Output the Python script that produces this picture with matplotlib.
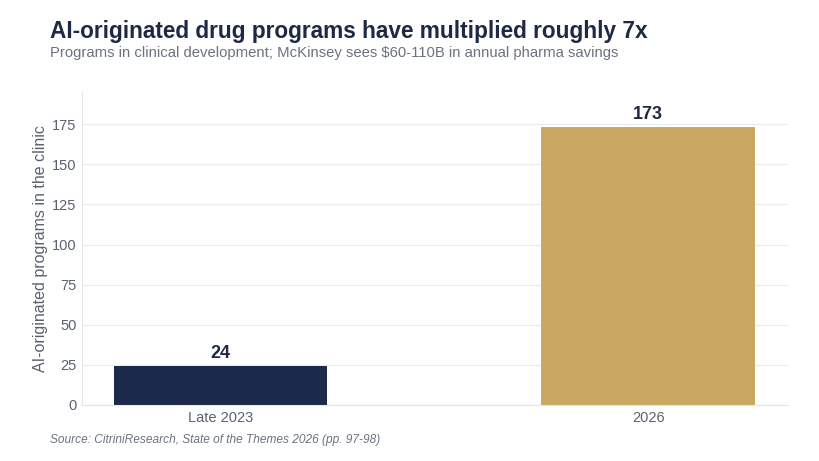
import numpy as np
import matplotlib.pyplot as plt

plt.rcParams['font.family'] = ['Liberation Sans', 'DejaVu Sans']

categories = ["Late 2023", "2026"]
values = [24, 173]
colors = ["#1b2a4a", "#c9a862"]

title = "AI-originated drug programs have multiplied roughly 7x"
subtitle = "Programs in clinical development; McKinsey sees $60-110B in annual pharma savings"
source = "Source: CitriniResearch, State of the Themes 2026 (pp. 97-98)"

fig = plt.figure(figsize=(8.2, 4.61), dpi=100)
ax = fig.add_axes([0.1, 0.1215, 0.861, 0.6785])

x = np.arange(len(categories))
ax.bar(x, values, width=0.5, color=colors, zorder=2)
for xi, v in zip(x, values):
    ax.text(xi, v + 3, str(v), ha="center", va="bottom", fontsize=13,
            fontweight="bold", color="#1e2a45")

ax.set_xlim(-0.324, 1.327)
ax.set_ylim(0, 195)
ax.set_yticks(np.arange(0, 176, 25))
ax.set_xticks(x)
ax.set_xticklabels(categories)
ax.grid(axis="y", color="#ececec", linewidth=0.8, zorder=0)
for s in ["top", "right"]:
    ax.spines[s].set_visible(False)
ax.spines["left"].set_color("#e6e6e6")
ax.spines["bottom"].set_color("#e6e6e6")
ax.tick_params(axis="both", length=0, colors="#5a6270", labelsize=10.5, pad=4)
ax.set_ylabel("AI-originated programs in the clinic", fontsize=11.5, color="#5a6270", labelpad=3)

fig.text(0.061, 0.932, title, fontsize=16.3, fontweight="bold", color="#1e2a45", va="center")
fig.text(0.061, 0.884, subtitle, fontsize=10.7, color="#6b7280", va="center")
fig.text(0.061, 0.045, source, fontsize=8.6, style="italic", color="#6b7280", va="center")

fig.savefig("out.png", dpi=100, facecolor="white")
